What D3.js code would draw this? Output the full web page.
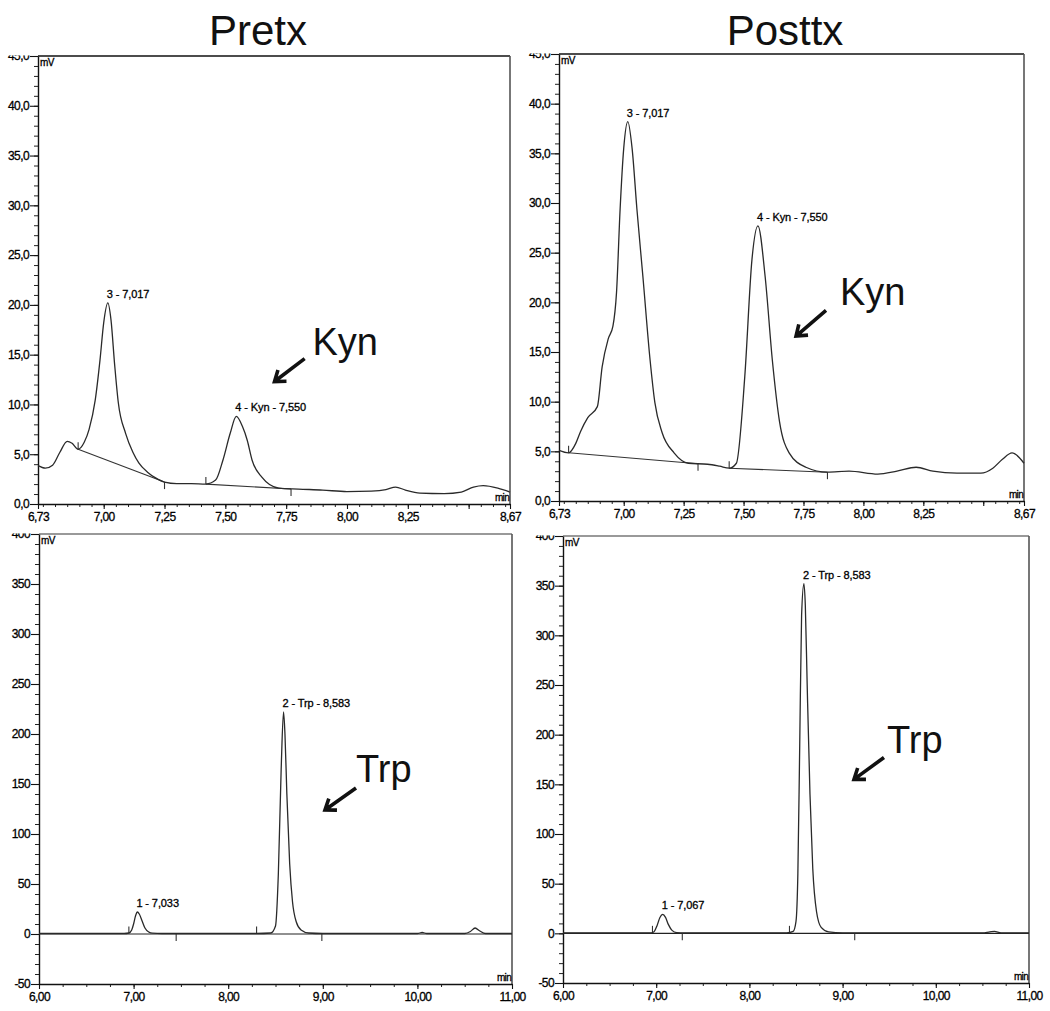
<!DOCTYPE html>
<html><head><meta charset="utf-8">
<script src="https://cdn.jsdelivr.net/npm/d3@7"></script>
<style>
body{margin:0;background:#fff}
svg{display:block}
text{font-family:"Liberation Sans",Arial,Helvetica,sans-serif}
</style>
</head><body><div id="chart"></div>
<script>
// ---------------- DATA ----------------
const titles = ["Pretx", "Posttx"];

// Top panels (Kyn window), minutes / mV
const pretxKynTime = [6.73,6.76,6.79,6.82,6.85,6.87,6.895,6.92,6.94,6.965,6.985,7.00,7.017,7.03,7.045,7.06,7.09,7.12,7.145,7.18,7.215,7.25,7.30,7.36,7.42,7.46,7.49,7.52,7.545,7.57,7.59,7.61,7.65,7.72,7.80,7.90,8.00,8.10,8.16,8.20,8.24,8.30,8.40,8.47,8.52,8.56,8.62,8.67];
const pretxKynMV   = [3.85,3.6,3.9,5.2,6.3,6.1,5.5,6.2,7.5,10.4,14.5,18.2,20.2,18.5,14.0,10.2,7.1,5.2,4.1,3.2,2.6,2.2,2.05,2.05,2.0,2.4,4.4,7.1,8.8,7.8,6.4,4.4,2.7,1.6,1.5,1.4,1.25,1.3,1.45,1.7,1.4,1.1,1.05,1.2,1.7,1.85,1.6,1.2];

const posttxKynTime = [6.73,6.77,6.80,6.82,6.85,6.89,6.91,6.935,6.955,6.97,6.985,7.00,7.017,7.035,7.055,7.08,7.11,7.13,7.16,7.21,7.27,7.35,7.40,7.44,7.47,7.505,7.535,7.56,7.59,7.62,7.65,7.69,7.76,7.85,7.94,8.06,8.14,8.22,8.29,8.39,8.49,8.54,8.58,8.62,8.67];
const posttxKynMV   = [5.1,4.85,5.8,7.0,8.4,9.5,13.5,16.3,17.6,21,29.4,35.5,38.2,35.5,29.4,22.6,14.2,9.9,6.9,4.85,3.8,3.7,3.5,3.3,3.8,12.5,24.3,27.7,22.6,14.2,8.0,4.85,3.4,2.9,3.0,2.7,3.0,3.4,3.0,2.8,2.8,3.3,4.2,4.85,3.8];

// Bottom panels (Trp window)
const pretxTrpTime = [6.00,6.50,6.90,6.95,6.98,7.00,7.02,7.04,7.06,7.09,7.12,7.16,7.20,7.30,8.00,8.30,8.45,8.50,8.53,8.56,8.585,8.60,8.62,8.65,8.68,8.72,8.77,8.85,9.00,10.00,10.05,10.10,10.50,10.56,10.61,10.66,10.72,11.00];
const pretxTrpMV   = [0.5,0.5,0.5,1,4,10,18,22,20,13,6,2,0.8,0.5,0.5,0.5,1,8,60,165,222,200,140,70,32,12,4,1,0.5,0.5,1.5,0.5,0.5,2.5,6,3,0.5,0.5];

const posttxTrpTime = [6.00,6.60,6.95,6.98,7.01,7.04,7.07,7.10,7.13,7.17,7.22,7.30,8.40,8.47,8.50,8.52,8.54,8.56,8.585,8.60,8.62,8.65,8.68,8.72,8.77,8.85,9.00,10.50,10.58,10.63,10.70,11.00];
const posttxTrpMV   = [0.5,0.5,0.5,2,8,16,19,16,9,3,0.8,0.5,0.5,2,12,60,190,320,352,330,250,140,65,22,6,1.5,0.5,0.5,1.5,2,0.5,0.5];

// Integration baselines [t1, v1, t2, v2]
const pretxKynBaselines  = [[6.895,5.5,7.25,2.2],[7.42,2.0,7.77,1.5]];
const posttxKynBaselines = [[6.77,4.85,7.31,3.75],[7.44,3.3,7.85,2.9]];
// Peak start (up) / end (down) markers [t, v]
const pretxKynStarts = [[6.895,5.5],[7.42,2.0]];
const pretxKynEnds   = [[7.25,2.2],[7.77,1.5]];
const posttxKynStarts = [[6.77,4.85],[7.44,3.3]];
const posttxKynEnds   = [[7.31,3.75],[7.85,2.9]];
const pretxTrpStarts = [[6.95,0.5],[8.30,0.5]];
const pretxTrpEnds   = [[7.45,0],[8.99,0]];
const posttxTrpStarts = [[6.96,0.5],[8.43,0.5]];
const posttxTrpEnds   = [[7.28,0],[9.13,0]];

// Peak labels
const pretxKynPeaks  = [{t:7.017,v:20.2,label:"3 - 7,017"},{t:7.545,v:8.8,label:"4 - Kyn - 7,550"}];
const posttxKynPeaks = [{t:7.017,v:38.2,label:"3 - 7,017"},{t:7.56,v:27.7,label:"4 - Kyn - 7,550"}];
const pretxTrpPeaks  = [{t:7.04,v:22,label:"1 - 7,033"},{t:8.585,v:222,label:"2 - Trp - 8,583"}];
const posttxTrpPeaks = [{t:7.07,v:19,label:"1 - 7,067"},{t:8.585,v:352,label:"2 - Trp - 8,583"}];

// Big annotations: text position and arrow (from -> tip), data units
const pretxKynNote  = {text:"Kyn", t:7.858, v:15.0, a:[7.826,14.6,7.702,12.3]};
const posttxKynNote = {text:"Kyn", t:7.902, v:19.7, a:[7.844,19.2,7.719,16.6]};
const pretxTrpNote  = {text:"Trp", t:9.351, v:152, a:[9.351,146,9.023,124]};
const posttxTrpNote = {text:"Trp", t:9.476, v:182, a:[9.444,177,9.122,155]};

// Ticks
const topXTicks = [6.73,7.00,7.25,7.50,7.75,8.00,8.25,8.50,8.67];
const topXTickLabels = ["6,73","7,00","7,25","7,50","7,75","8,00","8,25","","8,67"];
const topYTicks = [0,5,10,15,20,25,30,35,40,45];
const topYTickLabels = ["0,0","5,0","10,0","15,0","20,0","25,0","30,0","35,0","40,0","45,0"];
const botXTicks = [6,7,8,9,10,11];
const botXTickLabels = ["6,00","7,00","8,00","9,00","10,00","11,00"];
const botYTicks = [-50,0,50,100,150,200,250,300,350,400];
const botYTickLabels = ["-50","0","50","100","150","200","250","300","350","400"];

// ---------------- DRAW ----------------
const svg = d3.select("#chart").append("svg").attr("width",1050).attr("height",1011);
svg.append("rect").attr("width",1050).attr("height",1011).attr("fill","#fff");

svg.append("text").attr("x",258).attr("y",45).attr("text-anchor","middle")
  .attr("font-size",42).attr("fill","#111").text(titles[0]);
svg.append("text").attr("x",785).attr("y",45).attr("text-anchor","middle")
  .attr("font-size",42).attr("fill","#111").text(titles[1]);

let clipId = 0;
function range(a,b,s){const r=[];for(let v=a;v<=b+1e-9;v+=s)r.push(+v.toFixed(4));return r;}

function smallText(sel, size, ls){
  sel.attr("font-size",size).attr("fill","#000").attr("stroke","#000").attr("stroke-width",0.3)
     .attr("letter-spacing",ls);
}

function drawArrow(g,x1,y1,x2,y2){
  const dx=x2-x1, dy=y2-y1, L=Math.hypot(dx,dy), ux=dx/L, uy=dy/L;
  const h=12, a=Math.PI/5;
  const p=(ang)=>[x2-h*(ux*Math.cos(ang)-uy*Math.sin(ang)), y2-h*(uy*Math.cos(ang)+ux*Math.sin(ang))];
  const [ax,ay]=p(a),[bx,by]=p(-a);
  g.append("path").attr("d",`M${x1},${y1}L${x2},${y2}M${ax},${ay}L${x2},${y2}L${bx},${by}`)
    .attr("fill","none").attr("stroke","#111").attr("stroke-width",3.6);
}

function panel(c){
  const g = svg.append("g");
  const x = d3.scaleLinear().domain(c.xDomain).range([c.l,c.r]);
  const y = d3.scaleLinear().domain(c.yDomain).range([c.b,c.t]);

  // frame: top & right
  g.append("line").attr("x1",c.l).attr("x2",c.r).attr("y1",c.t).attr("y2",c.t)
    .attr("stroke",c.topColor).attr("stroke-width",1.6);
  g.append("line").attr("x1",c.r).attr("x2",c.r).attr("y1",c.t).attr("y2",c.b)
    .attr("stroke","#555").attr("stroke-width",1.6);

  // minor ticks
  g.append("g").attr("transform",`translate(0,${c.b})`)
    .call(d3.axisBottom(x).tickValues(c.xMinor).tickSize(3).tickFormat(""))
    .call(s=>s.select(".domain").remove())
    .call(s=>s.selectAll("line").attr("stroke","#222"));
  g.append("g").attr("transform",`translate(${c.l},0)`)
    .call(d3.axisLeft(y).tickValues(c.yMinor).tickSize(4).tickFormat(""))
    .call(s=>s.select(".domain").remove())
    .call(s=>s.selectAll("line").attr("stroke","#222"));

  // major axes
  const xa = g.append("g").attr("transform",`translate(0,${c.b})`)
    .call(d3.axisBottom(x).tickValues(c.xTicks).tickSize(5).tickPadding(3).tickSizeOuter(0)
      .tickFormat((d,i)=>c.xLabels[i]));
  const ya = g.append("g").attr("transform",`translate(${c.l},0)`)
    .call(d3.axisLeft(y).tickValues(c.yTicks).tickSize(8).tickPadding(1).tickSizeOuter(0)
      .tickFormat((d,i)=>c.yLabels[i]));
  [xa,ya].forEach(a=>{
    a.select(".domain").attr("stroke","#111").attr("stroke-width",1.4);
    a.selectAll(".tick line").attr("stroke","#111").attr("stroke-width",1.1);
    a.selectAll(".tick text").attr("font-family",'"Liberation Sans",Arial,sans-serif')
      .call(s=>smallText(s,12,"-0.6"));
  });
  // half-hidden top label
  const id = "clip"+(clipId++);
  svg.append("clipPath").attr("id",id).append("rect").attr("x",-60).attr("y",-1).attr("width",60).attr("height",12);
  ya.selectAll(".tick").filter(d=>d===c.yDomain[1]).select("text").attr("clip-path",`url(#${id})`);

  // zero line (bottom panels)
  if (c.zeroLine) {
    g.append("line").attr("x1",c.l).attr("x2",c.r).attr("y1",y(0)).attr("y2",y(0))
      .attr("stroke","#222").attr("stroke-width",1.1);
  }

  // units
  g.append("text").attr("x",c.l+2).attr("y",c.t+10).call(s=>smallText(s,10,"-0.7")).text("mV");
  g.append("text").attr("x",c.r-1).attr("y",c.b-3).attr("text-anchor","end")
    .call(s=>smallText(s,10,"-0.7")).text("min");

  // baselines
  (c.baselines||[]).forEach(bl=>{
    g.append("line").attr("x1",x(bl[0])).attr("y1",y(bl[1])).attr("x2",x(bl[2])).attr("y2",y(bl[3]))
      .attr("stroke","#333").attr("stroke-width",1.1);
  });
  // markers
  c.starts.forEach(m=>g.append("line").attr("x1",x(m[0])).attr("x2",x(m[0]))
    .attr("y1",y(m[1])).attr("y2",y(m[1])-7).attr("stroke","#333").attr("stroke-width",1.1));
  c.ends.forEach(m=>g.append("line").attr("x1",x(m[0])).attr("x2",x(m[0]))
    .attr("y1",y(m[1])).attr("y2",y(m[1])+7).attr("stroke","#333").attr("stroke-width",1.1));

  // trace
  const pts = c.time.map((t,i)=>[t,c.mv[i]]);
  g.append("path").datum(pts)
    .attr("d",d3.line().x(d=>x(d[0])).y(d=>y(d[1])).curve(d3.curveMonotoneX))
    .attr("fill","none").attr("stroke","#2a2a2a").attr("stroke-width",1.3);

  // peak labels
  c.peaks.forEach(p=>{
    g.append("text").attr("x",x(p.t)-1).attr("y",y(p.v)-5).call(s=>smallText(s,11,"-0.1")).text(p.label);
  });

  // annotation
  const n=c.note;
  g.append("text").attr("x",x(n.t)).attr("y",y(n.v)).attr("font-size",38).attr("fill","#111").text(n.text);
  drawArrow(g,x(n.a[0]),y(n.a[1]),x(n.a[2]),y(n.a[3]));
}

const topMinorX = range(6.75,8.65,0.05);
const topMinorY = range(0,45,1);
const botMinorX = range(6,11,0.25);
const botMinorY = range(-50,400,10);

panel({l:38,r:510,t:56,b:504,xDomain:[6.73,8.67],yDomain:[0,45],topColor:"#111",
  xTicks:topXTicks,xLabels:topXTickLabels,yTicks:topYTicks,yLabels:topYTickLabels,
  xMinor:topMinorX,yMinor:topMinorY,time:pretxKynTime,mv:pretxKynMV,
  baselines:pretxKynBaselines,starts:pretxKynStarts,ends:pretxKynEnds,peaks:pretxKynPeaks,note:pretxKynNote});
panel({l:559,r:1024,t:54,b:501,xDomain:[6.73,8.67],yDomain:[0,45],topColor:"#111",
  xTicks:topXTicks,xLabels:topXTickLabels,yTicks:topYTicks,yLabels:topYTickLabels,
  xMinor:topMinorX,yMinor:topMinorY,time:posttxKynTime,mv:posttxKynMV,
  baselines:posttxKynBaselines,starts:posttxKynStarts,ends:posttxKynEnds,peaks:posttxKynPeaks,note:posttxKynNote});
panel({l:39,r:512,t:534,b:984,xDomain:[6,11],yDomain:[-50,400],topColor:"#777",zeroLine:true,
  xTicks:botXTicks,xLabels:botXTickLabels,yTicks:botYTicks,yLabels:botYTickLabels,
  xMinor:botMinorX,yMinor:botMinorY,time:pretxTrpTime,mv:pretxTrpMV,
  starts:pretxTrpStarts,ends:pretxTrpEnds,peaks:pretxTrpPeaks,note:pretxTrpNote});
panel({l:563,r:1029,t:536,b:983,xDomain:[6,11],yDomain:[-50,400],topColor:"#777",zeroLine:true,
  xTicks:botXTicks,xLabels:botXTickLabels,yTicks:botYTicks,yLabels:botYTickLabels,
  xMinor:botMinorX,yMinor:botMinorY,time:posttxTrpTime,mv:posttxTrpMV,
  starts:posttxTrpStarts,ends:posttxTrpEnds,peaks:posttxTrpPeaks,note:posttxTrpNote});
</script></body></html>
